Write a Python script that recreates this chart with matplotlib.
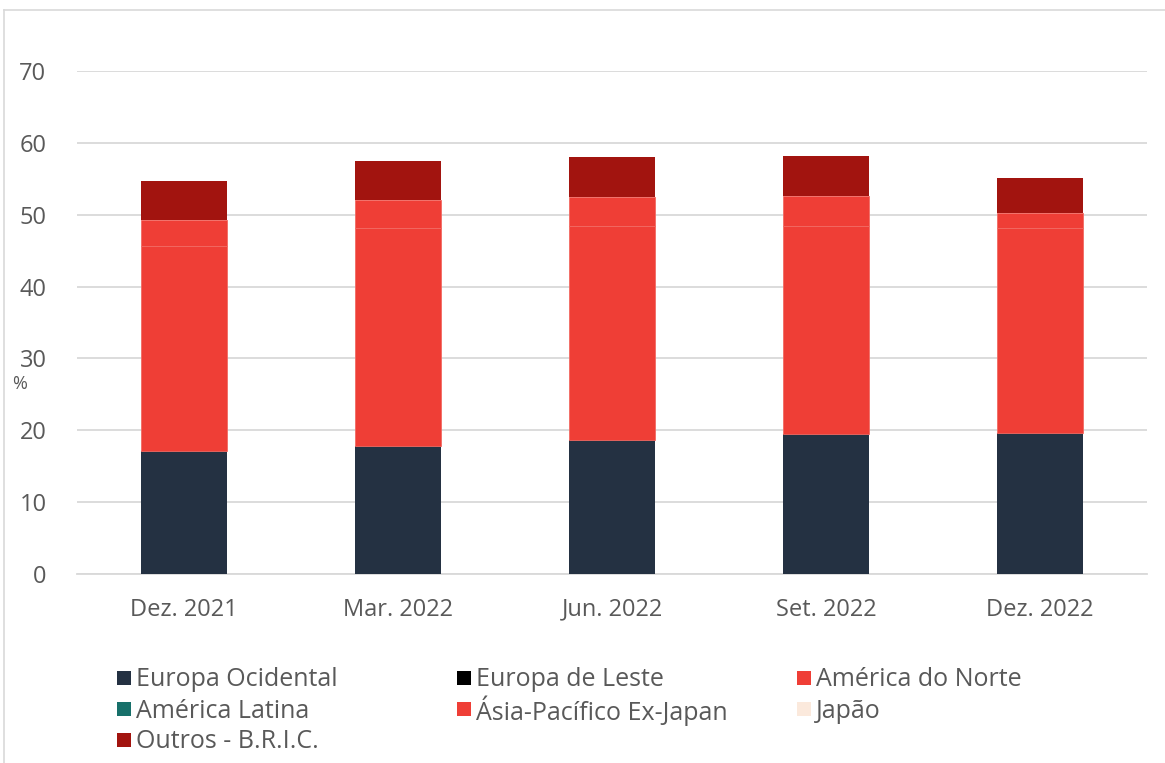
import matplotlib.pyplot as plt
import numpy as np
from matplotlib.patches import Rectangle
from matplotlib.lines import Line2D

plt.rcParams['font.family'] = ['Open Sans', 'DejaVu Sans']

# Data (% of portfolio)
categories = ['Dez. 2021', 'Mar. 2022', 'Jun. 2022', 'Set. 2022', 'Dez. 2022']
europa_ocidental = [17.1, 17.8, 18.6, 19.5, 19.6]
europa_leste = [0.0, 0.0, 0.0, 0.0, 0.0]
america_norte = [28.5, 30.3, 29.8, 28.9, 28.6]
america_latina = [0.0, 0.0, 0.0, 0.0, 0.0]
asia_pacifico = [3.7, 3.9, 4.1, 4.2, 2.0]
japao = [0.0, 0.0, 0.0, 0.0, 0.0]
outros_bric = [5.4, 5.5, 5.6, 5.6, 4.9]

series = [
    ('Europa Ocidental', europa_ocidental, '#243142'),
    ('Europa de Leste', europa_leste, '#000000'),
    ('América do Norte', america_norte, '#ef3e36'),
    ('América Latina', america_latina, '#17706a'),
    ('Ásia-Pacífico Ex-Japan', asia_pacifico, '#ef3e36'),
    ('Japão', japao, '#fbe9dc'),
    ('Outros - B.R.I.C.', outros_bric, '#a2140f'),
]

W, H = 1165, 763
fig = plt.figure(figsize=(W / 100, H / 100), dpi=100)
ax = fig.add_axes([77 / W, 1 - 574 / H, 1070 / W, 503 / H])

x = np.arange(len(categories))
bottom = np.zeros(len(categories))
for name, vals, color in series:
    vals = np.array(vals)
    ax.bar(x, vals, 0.40, bottom=bottom, color=color,
           edgecolor='#f26a63' if color == '#ef3e36' else 'none',
           linewidth=0.6, zorder=3)
    bottom += vals

ax.set_xlim(-0.5, len(categories) - 0.5)
ax.set_ylim(0, 70)
ax.set_yticks(range(0, 71, 10))
ax.set_xticks(x)
ax.set_xticklabels(categories)
ax.grid(axis='y', color='#d9d9d9', linewidth=1.3, zorder=0)
for s in ['top', 'right', 'left']:
    ax.spines[s].set_visible(False)
ax.spines['bottom'].set_color('#d9d9d9')
ax.spines['bottom'].set_linewidth(1.3)
ax.tick_params(axis='both', length=0, labelsize=17, labelcolor='#595959')
ax.tick_params(axis='y', pad=22)
ax.tick_params(axis='x', pad=17)

fig.text(20 / W, 1 - 384 / H, '%', fontsize=13, color='#595959', ha='center', va='center')

# legend drawn by hand, row-wise like the original
col_x = [117, 457, 797]
row_y = [678, 709, 740]
for i, (name, vals, color) in enumerate(series):
    cx = col_x[i % 3]
    cy = row_y[i // 3]
    fig.add_artist(Rectangle((cx / W, 1 - (cy + 7) / H), 14 / W, 14 / H,
                             transform=fig.transFigure, facecolor=color, edgecolor='none'))
    fig.text((cx + 19) / W, 1 - (cy - 1) / H, name, fontsize=18, color='#595959',
             ha='left', va='center_baseline')

# outer chart border
fig.add_artist(Line2D([4 / W, 4 / W], [0, 1 - 10 / H], transform=fig.transFigure,
                      color='#d9d9d9', linewidth=1.2))
fig.add_artist(Line2D([4 / W, 1], [1 - 10 / H, 1 - 10 / H], transform=fig.transFigure,
                      color='#d9d9d9', linewidth=1.2))

fig.savefig('out.png', dpi=100)
